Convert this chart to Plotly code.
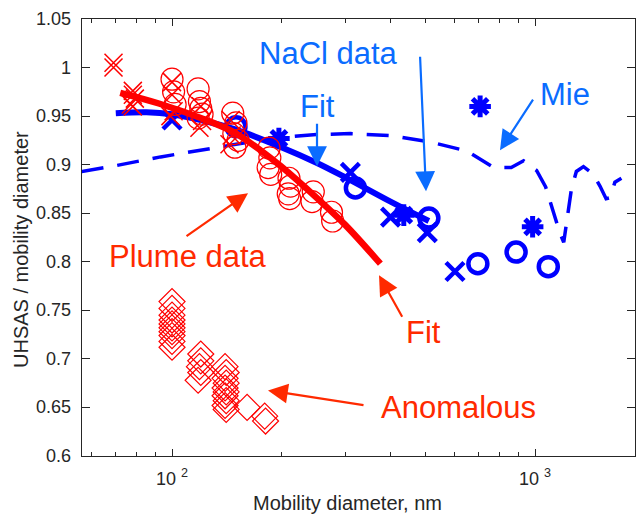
import plotly.graph_objects as go

# ---------------- data ----------------
# NaCl fit (blue solid)
nacl_fit_d = [70, 85, 100, 120, 150, 200, 250, 300, 400, 510]
nacl_fit_v = [0.953, 0.954, 0.952, 0.946, 0.936, 0.918, 0.902, 0.887, 0.862, 0.842]

# Plume fit (red solid)
plume_fit_d = [72, 92, 120, 147, 175, 200, 250, 300, 375]
plume_fit_v = [0.974, 0.963, 0.948, 0.934, 0.915, 0.898, 0.866, 0.838, 0.798]

# Mie calculation (blue dashed)
mie_d = [56.4, 70, 93, 120, 150, 200, 250, 310, 400, 520, 650, 770, 860, 930, 1010,
         1070, 1130, 1170, 1200, 1230, 1260, 1300, 1360, 1440, 1510, 1570, 1610, 1660, 1730]
mie_v = [0.893, 0.899, 0.908, 0.915, 0.921, 0.928, 0.931, 0.932, 0.930, 0.923, 0.914, 0.897,
         0.897, 0.904, 0.894, 0.877, 0.848, 0.830, 0.820, 0.845, 0.875, 0.893, 0.898, 0.891,
         0.878, 0.865, 0.866, 0.882, 0.886]

# NaCl data (blue, thick)
nacl_o_d = [150, 320, 510, 696, 887, 1088]
nacl_o_v = [0.939, 0.876, 0.845, 0.798, 0.810, 0.795]
nacl_x_d = [100, 310, 400, 505, 602]
nacl_x_v = [0.946, 0.892, 0.846, 0.830, 0.790]
nacl_star_d = [197, 435, 706, 985]
nacl_star_v = [0.927, 0.848, 0.960, 0.836]

# Plume data (red, thin)
plume_o_d = [100, 101, 102, 118, 119, 120, 121, 118, 147, 150, 148, 152, 149,
             185, 186, 184, 187, 210, 212, 209, 211, 245, 243, 275, 277]
plume_o_v = [0.988, 0.975, 0.962, 0.978, 0.965, 0.958, 0.952, 0.948, 0.953, 0.943, 0.932, 0.925, 0.918,
             0.917, 0.907, 0.897, 0.890, 0.886, 0.878, 0.870, 0.865, 0.872, 0.862, 0.851, 0.842]
plume_x_d = [69, 69, 78, 78, 79, 77, 78, 100, 100, 101, 99, 120, 121, 119, 145, 146, 144]
plume_x_v = [1.005, 1.000, 0.976, 0.972, 0.968, 0.962, 0.960, 0.985, 0.972, 0.955, 0.950,
             0.960, 0.945, 0.938, 0.946, 0.930, 0.921]

# Anomalous data (red diamonds)
anom_d = [100, 100, 100, 100, 100, 100, 100, 100, 100, 100,
          120, 120, 119, 120, 118,
          140, 141, 140, 141, 140, 141, 140, 141, 140, 141,
          161, 180, 181]
anom_v = [0.759, 0.752, 0.745, 0.740, 0.736, 0.732, 0.728, 0.724, 0.718, 0.712,
          0.705, 0.698, 0.692, 0.686, 0.678,
          0.692, 0.686, 0.680, 0.675, 0.670, 0.666, 0.662, 0.657, 0.652, 0.648,
          0.650, 0.641, 0.636]

y_ticks = [0.6, 0.65, 0.7, 0.75, 0.8, 0.85, 0.9, 0.95, 1.0, 1.05]
y_ticktext = ["0.6", "0.65", "0.7", "0.75", "0.8", "0.85", "0.9", "0.95", "1", "1.05"]
x_ticks = [100, 1000]
x_ticktext = ["10 <sup>2</sup>", "10 <sup>3</sup>"]
x_minor = [60, 70, 80, 90, 200, 300, 400, 500, 600, 700, 800, 900]

# ---------------- styling ----------------
BLUE = "#0000ff"
RED = "#ff0000"
TBLUE = "#0a6cff"
TRED = "#ff2a00"
FONT = "Liberation Sans"
AX = "#262626"

fig = go.Figure()

fig.add_trace(go.Scatter(x=mie_d, y=mie_v, mode="lines",
                         line=dict(color=BLUE, width=3.5, dash="22px,14px"), showlegend=False))
fig.add_trace(go.Scatter(x=nacl_fit_d, y=nacl_fit_v, mode="lines",
                         line=dict(color=BLUE, width=6, shape="spline"), showlegend=False))
fig.add_trace(go.Scatter(x=nacl_o_d, y=nacl_o_v, mode="markers",
                         marker=dict(symbol="circle-open", size=19, color=BLUE,
                                     line=dict(width=4.5, color=BLUE)), showlegend=False))
fig.add_trace(go.Scatter(x=nacl_x_d, y=nacl_x_v, mode="markers",
                         marker=dict(symbol="x-thin-open", size=18, color=BLUE,
                                     line=dict(width=4.5, color=BLUE)), showlegend=False))
fig.add_trace(go.Scatter(x=nacl_star_d, y=nacl_star_v, mode="markers",
                         marker=dict(symbol="asterisk-open", size=18, color=BLUE,
                                     line=dict(width=5, color=BLUE)), showlegend=False))
fig.add_trace(go.Scatter(x=plume_o_d, y=plume_o_v, mode="markers",
                         marker=dict(symbol="circle-open", size=22, color=RED,
                                     line=dict(width=1.2, color=RED)), showlegend=False))
fig.add_trace(go.Scatter(x=plume_x_d, y=plume_x_v, mode="markers",
                         marker=dict(symbol="x-thin-open", size=18, color=RED,
                                     line=dict(width=1.5, color=RED)), showlegend=False))
fig.add_trace(go.Scatter(x=anom_d, y=anom_v, mode="markers",
                         marker=dict(symbol="diamond-open", size=20, color=RED,
                                     line=dict(width=1.2, color=RED)), showlegend=False))
fig.add_trace(go.Scatter(x=plume_fit_d, y=plume_fit_v, mode="lines",
                         line=dict(color=RED, width=6.5, shape="spline"), showlegend=False))

# ---------------- annotations (pixel helpers) ----------------
def lx(px):
    return 2 + (px - 172) / 363.0

def vy(py):
    return 1.05 - (py - 19) / 970.0

annos = []
def text(t, px, py, color):
    annos.append(dict(text=t, x=lx(px), y=vy(py), xref="x", yref="y", showarrow=False,
                      xanchor="center", yanchor="middle",
                      font=dict(family=FONT, size=31, color=color)))

def arrow(tip, tail, color):
    annos.append(dict(text="", x=lx(tip[0]), y=vy(tip[1]), xref="x", yref="y",
                      ax=tail[0] - tip[0], ay=tail[1] - tip[1], showarrow=True,
                      arrowhead=2, arrowsize=1.8, arrowwidth=2.2, arrowcolor=color,
                      standoff=0, startstandoff=0))

text("NaCl data", 328, 53, TBLUE)
text("Fit", 317, 106, TBLUE)
text("Mie", 565, 94, TBLUE)
text("Plume data", 188, 256, TRED)
text("Fit", 423, 332, TRED)
text("Anomalous", 458, 407, TRED)

arrow((426, 191), (420, 55), TBLUE)
arrow((317, 166), (317, 122), TBLUE)
arrow((500, 150), (534, 98), TBLUE)
arrow((248, 193), (185, 237), TRED)
arrow((379, 275), (403, 318), TRED)
arrow((268, 390), (365, 405), TRED)

# y tick labels (placed as text next to the axis)
for v, t in zip(y_ticks, y_ticktext):
    annos.append(dict(text=t, x=(73 - 82) / 553.0, y=v, xref="paper", yref="y",
                      showarrow=False, xanchor="right", yanchor="middle",
                      font=dict(family=FONT, size=18, color=AX)))

# axis titles
annos.append(dict(text="Mobility diameter, nm", x=(347 - 82) / 553.0, y=(456 - 503) / 437.0,
                  xref="paper", yref="paper", showarrow=False, xanchor="center", yanchor="middle",
                  font=dict(family=FONT, size=20, color=AX)))
annos.append(dict(text="UHSAS / mobility diameter", x=(21 - 82) / 553.0, y=(456 - 250) / 437.0,
                  xref="paper", yref="paper", showarrow=False, xanchor="center", yanchor="middle",
                  textangle=-90, font=dict(family=FONT, size=20, color=AX)))

fig.update_layout(
    width=636, height=516,
    margin=dict(l=82, r=1, t=19, b=60),
    paper_bgcolor="white", plot_bgcolor="white",
    font=dict(family=FONT, size=18, color=AX),
    annotations=annos,
    xaxis=dict(type="log", range=[1.752, 3.2755], showgrid=False, zeroline=False,
               showline=True, linecolor=AX, linewidth=1, mirror="ticks", automargin=False,
               ticks="inside", ticklen=7, tickcolor=AX, ticklabelstandoff=6,
               tickvals=x_ticks, ticktext=x_ticktext,
               minor=dict(tickvals=x_minor, ticks="inside", ticklen=4, tickcolor=AX),
               tickfont=dict(family=FONT, size=18, color=AX)),
    yaxis=dict(range=[0.6, 1.05], showgrid=False, zeroline=False,
               showline=True, linecolor=AX, linewidth=1, mirror="ticks", automargin=False,
               ticks="inside", ticklen=8, tickcolor=AX, showticklabels=False,
               tickvals=y_ticks),
)

fig.write_html("out.html", config={"displayModeBar": False},
               post_script="document.body.style.margin='0px';document.body.style.padding='0px';")
